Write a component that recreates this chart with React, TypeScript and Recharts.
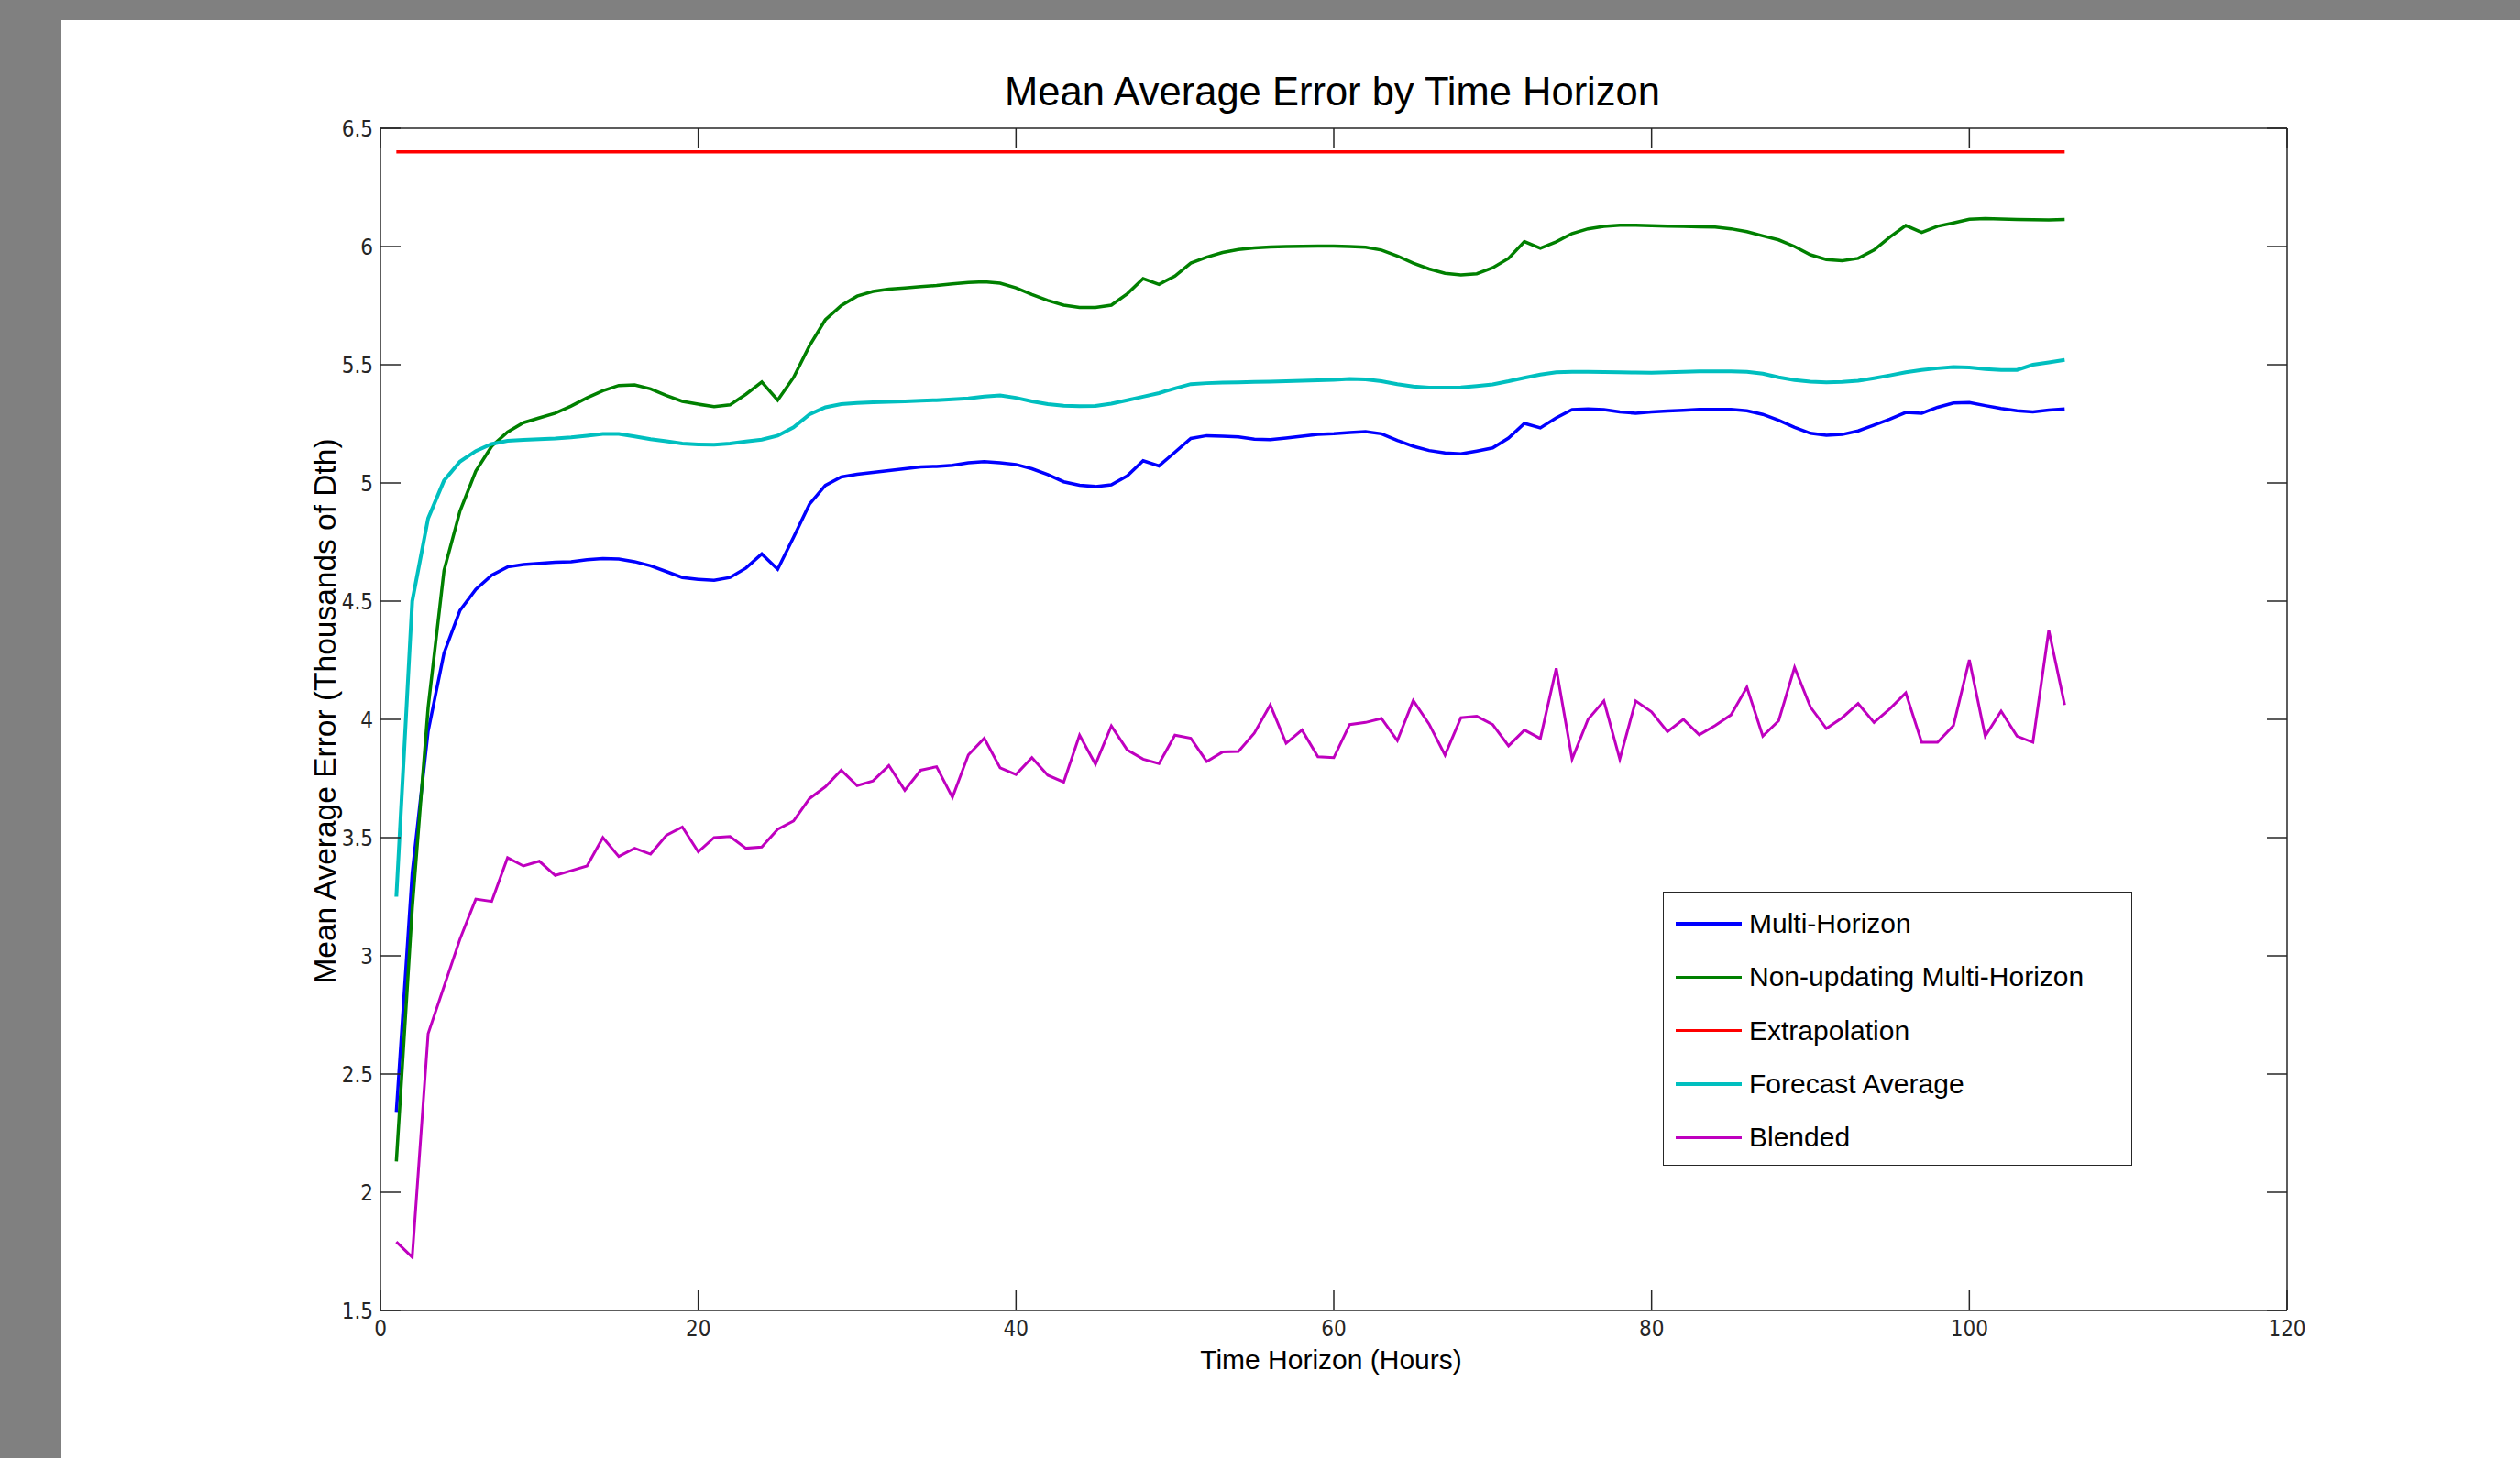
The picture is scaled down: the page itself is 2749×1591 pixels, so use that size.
import React from 'react';
import { LineChart, Line, XAxis, YAxis, Legend, ReferenceLine } from 'recharts';

// hour of the forecast horizon
const hours = [
  1, 2, 3, 4, 5, 6, 7, 8, 9, 10, 11, 12, 13, 14, 15, 16, 17, 18, 19, 20,
  21, 22, 23, 24, 25, 26, 27, 28, 29, 30, 31, 32, 33, 34, 35, 36, 37, 38, 39, 40,
  41, 42, 43, 44, 45, 46, 47, 48, 49, 50, 51, 52, 53, 54, 55, 56, 57, 58, 59, 60,
  61, 62, 63, 64, 65, 66, 67, 68, 69, 70, 71, 72, 73, 74, 75, 76, 77, 78, 79, 80,
  81, 82, 83, 84, 85, 86, 87, 88, 89, 90, 91, 92, 93, 94, 95, 96, 97, 98, 99, 100,
  101, 102, 103, 104, 105, 106,
];

const multiHorizon = [
  2.34, 3.35, 3.95, 4.28, 4.46, 4.55, 4.61, 4.645, 4.655, 4.66,
  4.665, 4.667, 4.675, 4.68, 4.678, 4.667, 4.65, 4.625, 4.6, 4.592,
  4.588, 4.6, 4.64, 4.7, 4.635, 4.77, 4.91, 4.99, 5.025, 5.037,
  5.045, 5.052, 5.06, 5.068, 5.07, 5.075, 5.085, 5.09, 5.085, 5.078,
  5.06, 5.035, 5.005, 4.99, 4.985, 4.992, 5.03, 5.094, 5.072, 5.13,
  5.188, 5.2, 5.198, 5.195, 5.185, 5.183, 5.19, 5.198, 5.205, 5.208,
  5.213, 5.217, 5.208, 5.18, 5.155, 5.137, 5.127, 5.123, 5.135, 5.148,
  5.19, 5.252, 5.233, 5.275, 5.31, 5.313, 5.31, 5.3, 5.295, 5.3,
  5.304, 5.307, 5.311, 5.311, 5.311, 5.305, 5.29, 5.265, 5.235, 5.21,
  5.202, 5.205, 5.22, 5.245, 5.27, 5.298, 5.295, 5.32, 5.338, 5.34,
  5.327, 5.315, 5.305, 5.3, 5.308, 5.313,
];

const nonUpdating = [
  2.13, 3.2, 4.05, 4.63, 4.88, 5.05, 5.155, 5.215, 5.255, 5.275,
  5.295, 5.325, 5.36, 5.39, 5.412, 5.415, 5.398, 5.37, 5.345, 5.333,
  5.323, 5.33, 5.375, 5.427, 5.35, 5.446, 5.58, 5.69, 5.75, 5.79,
  5.81, 5.82, 5.825, 5.83, 5.835, 5.842, 5.848, 5.851, 5.845, 5.825,
  5.797, 5.772, 5.752, 5.742, 5.742, 5.752, 5.8, 5.864, 5.84, 5.875,
  5.93, 5.955, 5.975, 5.987, 5.994, 5.998, 6.0, 6.001, 6.002, 6.002,
  6.0, 5.997, 5.985, 5.96, 5.93, 5.905, 5.887, 5.88, 5.885, 5.91,
  5.95, 6.021, 5.993, 6.02, 6.055, 6.075, 6.085, 6.09, 6.09, 6.088,
  6.086, 6.085, 6.083, 6.082, 6.075, 6.063, 6.045, 6.028, 6.0, 5.965,
  5.945, 5.94, 5.95, 5.985, 6.04, 6.089, 6.06, 6.086, 6.1, 6.115,
  6.118, 6.116, 6.114, 6.113, 6.112, 6.114,
];

const extrapHours = [1, 106];
const extrapolation = [6.4, 6.4];

const forecastAverage = [
  3.25, 4.5, 4.85, 5.01, 5.09, 5.135, 5.165, 5.178, 5.182, 5.185,
  5.188, 5.193, 5.2, 5.207, 5.207, 5.197, 5.185, 5.176, 5.167, 5.163,
  5.162, 5.167, 5.175, 5.183, 5.2, 5.235, 5.29, 5.32, 5.333, 5.338,
  5.341, 5.343, 5.345, 5.348, 5.35, 5.354, 5.358, 5.365, 5.37, 5.36,
  5.345, 5.333, 5.327, 5.325, 5.326, 5.335, 5.35, 5.365, 5.38, 5.4,
  5.418, 5.422, 5.424, 5.425, 5.427, 5.428, 5.43, 5.432, 5.434, 5.436,
  5.44, 5.438, 5.43, 5.418, 5.408, 5.403, 5.403, 5.404, 5.41, 5.417,
  5.43, 5.445, 5.458, 5.468, 5.47, 5.47, 5.469, 5.468, 5.467, 5.466,
  5.468, 5.47, 5.472, 5.472, 5.472, 5.47, 5.462, 5.447, 5.435, 5.428,
  5.425, 5.427, 5.432, 5.443, 5.455, 5.468, 5.478, 5.485, 5.49, 5.488,
  5.482, 5.478, 5.478, 5.5, 5.51, 5.52,
];

const blended = [
  1.79, 1.725, 2.67, 2.87, 3.07, 3.24, 3.23, 3.415, 3.38, 3.4,
  3.34, 3.36, 3.38, 3.5, 3.42, 3.455, 3.43, 3.51, 3.545, 3.44,
  3.5, 3.505, 3.455, 3.46, 3.535, 3.57, 3.665, 3.715, 3.785, 3.72,
  3.74, 3.805, 3.7, 3.785, 3.8, 3.67, 3.85, 3.92, 3.795, 3.767,
  3.838, 3.764, 3.735, 3.933, 3.81, 3.972, 3.871, 3.832, 3.813, 3.933,
  3.92, 3.822, 3.862, 3.864, 3.942, 4.061, 3.899, 3.955, 3.842, 3.838,
  3.978, 3.987, 4.004, 3.91, 4.08, 3.98, 3.849, 4.007, 4.013, 3.978,
  3.888, 3.955, 3.919, 4.216, 3.832, 4.0, 4.078, 3.832, 4.078, 4.032,
  3.948, 4.0, 3.935, 3.974, 4.019, 4.136, 3.929, 3.994, 4.22, 4.052,
  3.961, 4.007, 4.067, 3.987, 4.045, 4.112, 3.903, 3.903, 3.974, 4.252,
  3.929, 4.035, 3.929, 3.903, 4.377, 4.061,
];

const xTicks = [0, 20, 40, 60, 80, 100, 120];
const yTicks = [1.5, 2, 2.5, 3, 3.5, 4, 4.5, 5, 5.5, 6, 6.5];

const seriesNames = [
  'Multi-Horizon',
  'Non-updating Multi-Horizon',
  'Extrapolation',
  'Forecast Average',
  'Blended',
];
const seriesColors = ['#0000ff', '#008000', '#ff0000', '#00bfbf', '#bf00bf'];

// plot box in page pixels
const LEFT = 415;
const TOP = 140;
const RIGHT = 2495;
const BOTTOM = 1430;
const TICK = 22;
const AXIS = '#262626';
const TICK_FONT = '"Liberation Sans Narrow", "DejaVu Sans Condensed", Arial, sans-serif';
const FONT = '"Liberation Sans", Arial, Helvetica, sans-serif';

const rows = hours.map((h, i) => ({
  h,
  mh: multiHorizon[i],
  nu: nonUpdating[i],
  fa: forecastAverage[i],
  bl: blended[i],
}));
const extrapRows = extrapHours.map((h, i) => ({ h, v: extrapolation[i] }));

function XTick({ x, payload }: any) {
  return (
    <g>
      <line x1={x} x2={x} y1={BOTTOM} y2={BOTTOM - TICK} stroke={AXIS} strokeWidth={1.5} />
      <line x1={x} x2={x} y1={TOP} y2={TOP + TICK} stroke={AXIS} strokeWidth={1.5} />
      <text x={x} y={BOTTOM + 28} textAnchor="middle" fontFamily={TICK_FONT} fontSize={24} fill={AXIS}>
        {payload.value}
      </text>
    </g>
  );
}

function YTick({ y, payload }: any) {
  return (
    <g>
      <line x1={LEFT} x2={LEFT + TICK} y1={y} y2={y} stroke={AXIS} strokeWidth={1.5} />
      <line x1={RIGHT} x2={RIGHT - TICK} y1={y} y2={y} stroke={AXIS} strokeWidth={1.5} />
      <text x={LEFT - 8} y={y + 8.5} textAnchor="end" fontFamily={TICK_FONT} fontSize={24} fill={AXIS}>
        {payload.value}
      </text>
    </g>
  );
}

function LegendBox() {
  return (
    <div
      style={{
        boxSizing: 'border-box',
        width: 512,
        height: 299,
        border: `1.5px solid ${AXIS}`,
        background: '#fff',
        paddingTop: 5,
      }}
    >
      {seriesNames.map((name, i) => (
        <div key={name} style={{ height: 58.3, display: 'flex', alignItems: 'center' }}>
          <span
            style={{
              display: 'inline-block',
              width: 72,
              height: 3.5,
              marginLeft: 13,
              marginRight: 8,
              background: seriesColors[i],
            }}
          />
          <span style={{ fontFamily: FONT, fontSize: 30, color: '#000', whiteSpace: 'nowrap' }}>{name}</span>
        </div>
      ))}
    </div>
  );
}

export default function App() {
  return (
    <div
      style={{
        position: 'absolute',
        left: 0,
        top: 0,
        width: 2749,
        height: 1591,
        background: '#808080',
        overflow: 'hidden',
      }}
    >
      <div style={{ position: 'absolute', left: 66, top: 22, right: 0, bottom: 0, background: '#fff' }} />
      <div
        style={{
          position: 'absolute',
          left: 0,
          top: 78,
          width: 2749,
          textAlign: 'center',
          paddingLeft: 158,
          boxSizing: 'border-box',
          fontFamily: FONT,
          fontSize: 43.5,
          lineHeight: '44px',
          color: '#000',
        }}
      >
        Mean Average Error by Time Horizon
      </div>
      <div style={{ position: 'absolute', left: 0, top: 0 }}>
        <LineChart
          width={2749}
          height={1591}
          data={rows}
          margin={{ top: TOP, right: 2749 - RIGHT, bottom: 1591 - BOTTOM - 40, left: LEFT - 60 }}
        >
          <XAxis
            type="number"
            dataKey="h"
            domain={[0, 120]}
            ticks={xTicks}
            interval={0}
            allowDataOverflow
            height={40}
            tickSize={0}
            tickMargin={10}
            axisLine={{ stroke: AXIS, strokeWidth: 1.5 }}
            tick={(p: any) => <XTick {...p} />}
            label={{
              content: () => (
                <text x={1452} y={1494} textAnchor="middle" fontFamily={FONT} fontSize={30} fill="#000">
                  Time Horizon (Hours)
                </text>
              ),
            }}
          />
          <YAxis
            type="number"
            domain={[1.5, 6.5]}
            ticks={yTicks}
            interval={0}
            allowDataOverflow
            width={60}
            tickSize={0}
            tickMargin={8}
            axisLine={{ stroke: AXIS, strokeWidth: 1.5 }}
            tick={(p: any) => <YTick {...p} />}
            label={{
              content: () => (
                <text
                  x={0}
                  y={0}
                  transform={`translate(366, 776) rotate(-90)`}
                  textAnchor="middle"
                  fontFamily={FONT}
                  fontSize={33.5}
                  fill="#000"
                >
                  Mean Average Error (Thousands of Dth)
                </text>
              ),
            }}
          />
          <ReferenceLine y={6.5} stroke={AXIS} strokeWidth={1.5} />
          <ReferenceLine x={120} stroke={AXIS} strokeWidth={1.5} />
          <Line type="linear" dataKey="mh" name={seriesNames[0]} stroke={seriesColors[0]} strokeWidth={3.5} dot={false} isAnimationActive={false} />
          <Line type="linear" dataKey="nu" name={seriesNames[1]} stroke={seriesColors[1]} strokeWidth={3.5} dot={false} isAnimationActive={false} />
          <Line type="linear" data={extrapRows} dataKey="v" name={seriesNames[2]} stroke={seriesColors[2]} strokeWidth={3.5} dot={false} isAnimationActive={false} />
          <Line type="linear" dataKey="fa" name={seriesNames[3]} stroke={seriesColors[3]} strokeWidth={4} dot={false} isAnimationActive={false} />
          <Line type="linear" dataKey="bl" name={seriesNames[4]} stroke={seriesColors[4]} strokeWidth={3} dot={false} isAnimationActive={false} />
          <Legend
            layout="vertical"
            align="center"
            verticalAlign="middle"
            content={() => <LegendBox />}
            wrapperStyle={{ left: 1814, top: 973, width: 512, height: 299 }}
          />
        </LineChart>
      </div>
    </div>
  );
}
